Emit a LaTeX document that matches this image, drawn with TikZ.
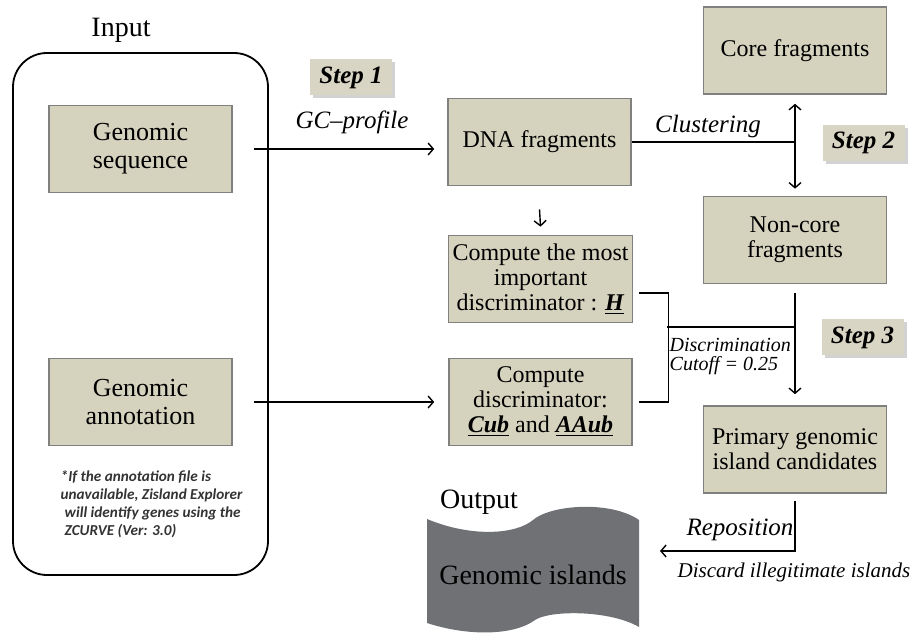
\documentclass[tikz,border=0pt]{standalone}
\usepackage{fontspec}
\setmainfont{Liberation Serif}
\newfontfamily\notefont{Carlito}
\usetikzlibrary{shadows,arrows.meta}
\definecolor{boxfill}{RGB}{213,210,190}
\definecolor{boxline}{RGB}{128,128,126}
\definecolor{stepfill}{RGB}{216,213,196}
\definecolor{outfill}{RGB}{112,113,117}
\tikzset{
  box/.style={draw=boxline,line width=0.8pt,fill=boxfill,minimum width=91.5pt,minimum height=43.5pt,
    align=center,inner sep=2pt,font=\fontsize{12}{12.5}\selectfont},
  inbox/.style={box,font=\fontsize{13}{14}\selectfont},
  stepbox/.style={fill=stepfill,minimum width=41pt,minimum height=18pt,inner sep=1pt,
    font=\fontsize{12.5}{14}\selectfont\bfseries\itshape,
    drop shadow={shadow xshift=1.5pt,shadow yshift=-1.5pt,fill=black!35}},
  lbl/.style={font=\fontsize{12.5}{14}\selectfont\itshape},
}
\begin{document}
\begin{tikzpicture}[>={Straight Barb[length=2.6pt,width=6pt]},x=0.5pt,y=-0.5pt,line width=0.7pt]
    \useasboundingbox (0,0) rectangle (914,640);
    % input
    \node[font=\fontsize{14}{16}\selectfont] (input) at (121,30) {Input};
    \draw[line width=0.9pt,rounded corners=17pt] (13,53) rectangle (268,575);
    \node[inbox] (seq) at (140.5,149) {Genomic\\sequence};
    \node[inbox] (ann) at (140.5,402) {Genomic\\annotation};
    \node[anchor=north west,align=left,inner sep=0pt,text=black!80,
      font=\notefont\bfseries\itshape\fontsize{7.6}{9}\selectfont] (note) at (60,470)
      {*If the annotation file is\\unavailable, Zisland Explorer\\\hspace*{2pt}will identify genes using the\\\hspace*{2pt}ZCURVE (Ver: 3.0)};
    % step 1
    \node[stepbox] (step1) at (351,77.5) {Step 1};
    \node[lbl] (gc) at (352,122) {GC–profile};
    \node[box] (dna) at (539.5,142) {DNA fragments};
    \coordinate (gcend) at (seq.east -| dna.west);
    \draw[->] ([xshift=10.5pt]seq.east) -- ([xshift=-6.5pt]gcend);
    % step 2
    \node[box] (core) at (795,50.5) {Core fragments};
    \node[box] (noncore) at (795,240) {Non-core\\fragments};
    \node[stepbox] (step2) at (863.5,143) {Step 2};
    \node[lbl] (clus) at (708,126) {Clustering};
    \coordinate (split) at (dna.east -| core.south);
    \draw (dna.east) -- (split);
    \draw[<->] ([yshift=-4.5pt]core.south) -- ([yshift=3.5pt]noncore.north);
    % step 3
    \node[box] (hbox) at (540.5,279) {Compute the most\\important\\discriminator : \underline{\textbf{\textit{H}}}};
    \node[box] (cub) at (540.5,402) {Compute\\discriminator:\\\underline{\textbf{\textit{Cub}}} and \underline{\textbf{\textit{AAub}}}};
    \draw[->] ([yshift=-11.5pt]dna.south) -- ([yshift=4pt]hbox.north);
    \coordinate (annend) at (ann.east -| cub.west);
    \draw[->] ([xshift=10.5pt]ann.east) -- ([xshift=-7pt]annend);
    \node[box] (primary) at (795,449.5) {Primary genomic\\island candidates};
    \node[stepbox] (step3) at (862.5,337.5) {Step 3};
    \coordinate (hb) at ([xshift=3pt,yshift=-7pt]hbox.east);
    \coordinate (cb) at ([xshift=3pt]cub.east);
    \draw (hb) -- ++(14.5pt,0) |- (cb);
    \coordinate (bmid) at (667,327);
    \coordinate (join) at (bmid -| noncore.south);
    \draw (bmid) -- (join);
    \draw[->] ([yshift=-4.5pt]noncore.south) -- ([yshift=5.5pt]primary.north);
    \node[anchor=north west,align=left,inner sep=0pt,font=\fontsize{10}{9.5}\selectfont\itshape] (cutoff) at (669,338)
      {Discrimination\\Cutoff = 0.25};
    % output
    \fill[outfill] (427,519) .. controls (470,537) and (515,535) .. (533,520)
      .. controls (550,505) and (610,500) .. (639,520) -- (639,627)
      .. controls (610,610) and (550,610) .. (535,620)
      .. controls (515,635) and (470,637) .. (427,623) -- cycle;
    \node[font=\fontsize{14}{16}\selectfont] (output) at (479,502) {Output};
    \node[font=\fontsize{14}{16}\selectfont] (gi) at (533,575) {Genomic islands};
    \coordinate (outtip) at (660,551);
    \draw[->] ([yshift=-3.5pt]primary.south) |- (outtip);
    \node[lbl] (repos) at (740,530) {Reposition};
    \node[font=\fontsize{10.5}{13}\selectfont\itshape] (discard) at (794,572) {Discard illegitimate islands};
\end{tikzpicture}
\end{document}
